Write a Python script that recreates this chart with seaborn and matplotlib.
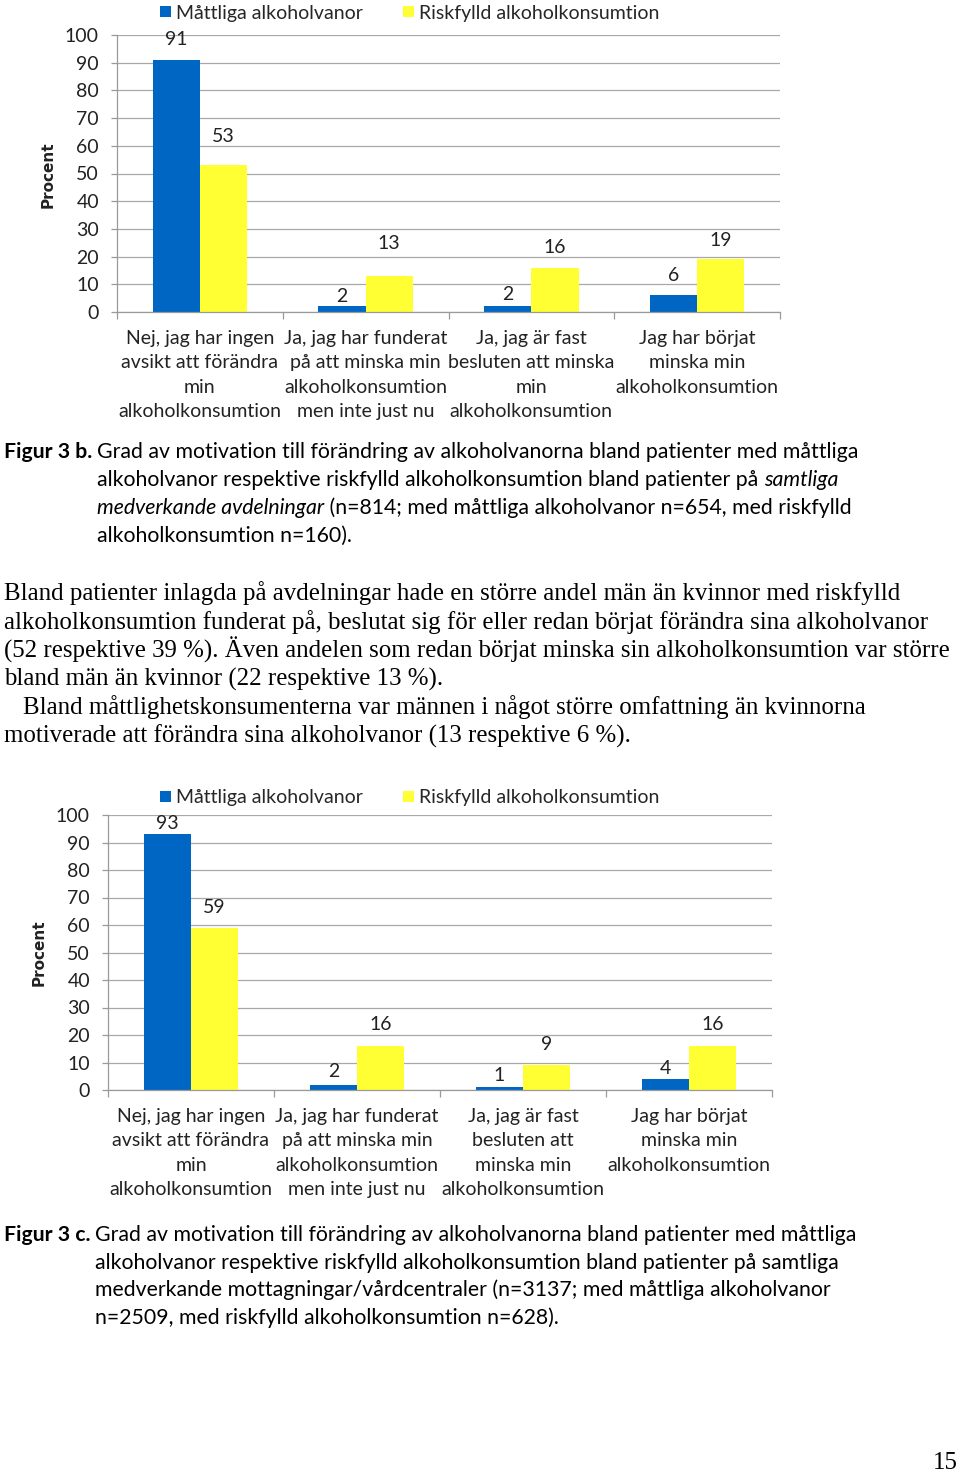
import matplotlib
matplotlib.use("Agg")
import matplotlib.pyplot as plt
from matplotlib.ticker import FixedLocator
import seaborn as sns
import pandas as pd

# ---------------- data ----------------
series = ["Måttliga alkoholvanor", "Riskfylld alkoholkonsumtion"]
categories_b = [
    "Nej, jag har ingen\navsikt att förändra\nmin\nalkoholkonsumtion",
    "Ja, jag har funderat\npå att minska min\nalkoholkonsumtion\nmen inte just nu",
    "Ja, jag är fast\nbesluten att minska\nmin\nalkoholkonsumtion",
    "Jag har börjat\nminska min\nalkoholkonsumtion",
]
moderate_b = [91, 2, 2, 6]
risky_b = [53, 13, 16, 19]

categories_c = [
    "Nej, jag har ingen\navsikt att förändra\nmin\nalkoholkonsumtion",
    "Ja, jag har funderat\npå att minska min\nalkoholkonsumtion\nmen inte just nu",
    "Ja, jag är fast\nbesluten att\nminska min\nalkoholkonsumtion",
    "Jag har börjat\nminska min\nalkoholkonsumtion",
]
moderate_c = [93, 2, 1, 4]
risky_c = [59, 16, 9, 16]

y_ticks = [0, 10, 20, 30, 40, 50, 60, 70, 80, 90, 100]

# label offsets above bar tops (pixels) - styling
off_mod_b = [20, 10, 12, 20]
off_risk_b = [29, 32, 20, 19]
off_mod_c = [11, 13, 12, 10]
off_risk_c = [20, 22, 21, 21]

# ---------------- style ----------------
sns.set_theme(style="white")
SANS = ["Lato", "DejaVu Sans"]
SERIF = ["Liberation Serif", "DejaVu Serif"]
plt.rcParams["font.family"] = SANS
BLUE = "#0066C4"
YELLOW = "#FFFF33"
GRID = "#A8A8A8"
FS = 14

W, H = 960, 1474
fig = plt.figure(figsize=(W / 100, H / 100), dpi=100)


def fx(x):
    return x / W


def fy(y):
    return 1 - y / H


def make_chart(left, right, top, bottom, cats, mod, risk, offm, offr, ylab_xy, legend_xy):
    ax = fig.add_axes([fx(left), fy(bottom), fx(right - left), (bottom - top) / H])
    df = pd.DataFrame({
        "cat": cats * 2,
        "serie": [series[0]] * len(cats) + [series[1]] * len(cats),
        "val": mod + risk,
    })
    sns.barplot(data=df, x="cat", y="val", hue="serie", hue_order=series,
                palette=[BLUE, YELLOW], width=0.57, ax=ax, saturation=1,
                linewidth=0, errorbar=None)
    ax.set_ylim(0, 100)
    ax.set_xlim(-0.5, len(cats) - 0.5)
    ax.set_yticks(y_ticks)
    ax.set_yticklabels([str(t) for t in y_ticks], fontsize=FS, color="#222222")
    ax.yaxis.grid(True, color=GRID, linewidth=0.9)
    ax.set_axisbelow(True)
    for s in ["top", "right"]:
        ax.spines[s].set_visible(False)
    for s in ["left", "bottom"]:
        ax.spines[s].set_color("#9A9A9A")
        ax.spines[s].set_linewidth(0.9)
    ax.tick_params(axis="y", which="major", length=4.5, width=0.9, color="#9A9A9A",
                   direction="out", pad=8.5, left=True)
    ax.set_xticks(range(len(cats)))
    ax.set_xticklabels(cats, fontsize=FS, color="#222222", linespacing=1.53)
    ax.xaxis.set_minor_locator(FixedLocator([i - 0.5 for i in range(len(cats) + 1)]))
    ax.tick_params(axis="x", which="major", length=0, pad=13)
    ax.tick_params(axis="x", which="minor", length=5, width=0.9, color="#9A9A9A",
                   direction="out", bottom=True)
    ax.set_xlabel("")
    ax.set_ylabel("")
    # value labels
    for cont, offs in zip(ax.containers, [offm, offr]):
        for bar, o in zip(cont, offs):
            h = bar.get_height()
            ax.annotate(f"{h:.0f}", (bar.get_x() + bar.get_width() / 2, h),
                        xytext=(0, o), textcoords="offset pixels",
                        ha="center", va="center", fontsize=FS, color="#222222")
    handles, labels = ax.get_legend_handles_labels()
    if ax.get_legend() is not None:
        ax.get_legend().remove()
    fig.legend(handles, labels, loc="center left",
               bbox_to_anchor=(fx(legend_xy[0]), fy(legend_xy[1])),
               ncol=2, frameon=False, fontsize=FS, handlelength=0.55,
               handleheight=0.55, handletextpad=0.25, columnspacing=2.1,
               borderpad=0, borderaxespad=0)
    fig.text(fx(ylab_xy[0]), fy(ylab_xy[1]), "Procent", rotation=90,
             ha="center", va="center", fontsize=11, fontweight="bold",
             family=["DejaVu Sans"], color="#222222")
    return ax


make_chart(117, 780, 35, 312, categories_b, moderate_b, risky_b, off_mod_b, off_risk_b,
           (48, 175), (160, 13))
make_chart(108, 772, 815, 1090, categories_c, moderate_c, risky_c, off_mod_c, off_risk_c,
           (39, 953), (160, 798))

# ---------------- captions & body text ----------------
renderer = fig.canvas.get_renderer()
CAP = 15.3


def cap_text(x, y, s, **kw):
    return fig.text(fx(x), fy(y), s, ha="left", va="center", fontsize=CAP,
                    color="black", **kw)


def after(t, y, s, **kw):
    bb = t.get_window_extent(renderer=renderer)
    return fig.text(bb.x1 / W, fy(y), s, ha="left", va="center", fontsize=CAP,
                    color="black", **kw)


# Figur 3 b
cap_text(4, 452, "Figur 3 b.", fontweight="bold")
cap_text(97, 452, "Grad av motivation till förändring av alkoholvanorna bland patienter med måttliga")
t = cap_text(97, 480, "alkoholvanor respektive riskfylld alkoholkonsumtion bland patienter på ")
after(t, 480, "samtliga", style="italic")
t = cap_text(97, 508, "medverkande avdelningar", style="italic")
after(t, 508, " (n=814; med måttliga alkoholvanor n=654, med riskfylld")
cap_text(97, 536, "alkoholkonsumtion n=160).")

# body text
body_lines = [
    "Bland patienter inlagda på avdelningar hade en större andel män än kvinnor med riskfylld",
    "alkoholkonsumtion funderat på, beslutat sig för eller redan börjat förändra sina alkoholvanor",
    "(52 respektive 39 %). Även andelen som redan börjat minska sin alkoholkonsumtion var större",
    "bland män än kvinnor (22 respektive 13 %).",
    "Bland måttlighetskonsumenterna var männen i något större omfattning än kvinnorna",
    "motiverade att förändra sina alkoholvanor (13 respektive 6 %).",
]
body_x = [4, 4, 4, 4, 23, 4]
body_y = [593, 622, 650, 679, 707, 736]
for s, x, y in zip(body_lines, body_x, body_y):
    fig.text(fx(x), fy(y), s, ha="left", va="center", fontsize=17.9,
             family=SERIF, color="black")

# Figur 3 c
cap_text(4, 1235, "Figur 3 c.", fontweight="bold")
cap_lines_c = [
    "Grad av motivation till förändring av alkoholvanorna bland patienter med måttliga",
    "alkoholvanor respektive riskfylld alkoholkonsumtion bland patienter på samtliga",
    "medverkande mottagningar/vårdcentraler (n=3137; med måttliga alkoholvanor",
    "n=2509, med riskfylld alkoholkonsumtion n=628).",
]
for s, y in zip(cap_lines_c, [1235, 1263, 1290, 1318]):
    cap_text(95, y, s)

fig.text(fx(958), fy(1463), "15", ha="right", va="center", fontsize=17.9,
         family=SERIF, color="black")

fig.savefig("out.png", dpi=100, facecolor="white")
